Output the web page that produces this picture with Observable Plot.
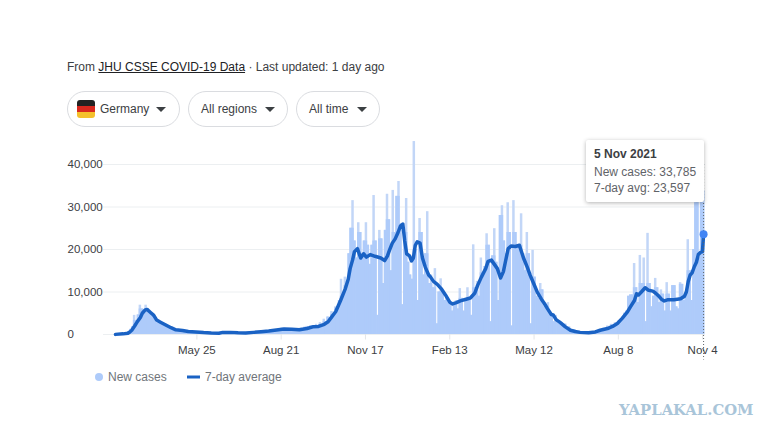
<!DOCTYPE html>
<html>
<head>
<meta charset="utf-8">
<script src="https://cdn.jsdelivr.net/npm/d3@7"></script>
<script src="https://cdn.jsdelivr.net/npm/@observablehq/plot@0.6"></script>
<style>
html,body{margin:0;padding:0;background:#fff;width:782px;height:440px;overflow:hidden;font-family:"Liberation Sans",Arial,sans-serif}
.abs{position:absolute;white-space:nowrap}
#source{left:67px;top:59px;font-size:12px;color:#3c4043;line-height:16px}
#source u{color:#202124}
.chip{position:absolute;top:91px;height:34px;border:1px solid #dadce0;border-radius:18px;box-sizing:content-box;font-size:12px;color:#3c4043;line-height:34px}
.chip span{position:absolute;top:0}
.tri{position:absolute;top:15px;width:0;height:0;border-left:5px solid transparent;border-right:5px solid transparent;border-top:5px solid #3c4043}
#flag{position:absolute;left:9px;top:8px;width:18px;height:18px;border-radius:3px;overflow:hidden}
#flag div{height:6px}
#chart{position:absolute;left:0;top:130px}
#tip{position:absolute;left:586px;top:140px;width:118px;height:62px;background:#fff;box-shadow:0 1px 4px rgba(0,0,0,.3);border-radius:2px;font-size:12px;color:#5f6368;z-index:3}
#tip div{position:absolute;left:8px;white-space:nowrap}
#legend{position:absolute;left:0;top:369px;width:782px;height:16px;font-size:12px;color:#70757a;line-height:16px}
#legend .t{position:absolute;top:0}
#wm{left:619px;top:401px;font-family:"DejaVu Serif",serif;font-weight:bold;font-size:14.8px;color:#a9c5d9}
</style>
</head>
<body>
<div id="source" class="abs">From <u>JHU CSSE COVID-19 Data</u> · Last updated: 1 day ago</div>
<div class="chip" style="left:67px;width:111px"><div id="flag"><div style="background:#222"></div><div style="background:#d8281e"></div><div style="background:#f5c02c"></div></div><span style="left:32px">Germany</span><i class="tri" style="left:88px"></i></div>
<div class="chip" style="left:188px;width:98px"><span style="left:12px">All regions</span><i class="tri" style="left:76px"></i></div>
<div class="chip" style="left:296px;width:82px"><span style="left:12px">All time</span><i class="tri" style="left:60px"></i></div>
<div id="chart"></div>
<div id="tip"><div style="top:7px;font-weight:bold;color:#3c4043">5 Nov 2021</div><div style="top:25px">New cases: 33,785</div><div style="top:41px">7-day avg: 23,597</div></div>
<div id="legend">
<svg width="782" height="16" style="position:absolute;left:0;top:0"><circle cx="99" cy="8" r="4" fill="#aecbfa"/><line x1="187" x2="200" y1="8" y2="8" stroke="#1a62c4" stroke-width="3"/></svg>
<span class="t" style="left:108px">New cases</span><span class="t" style="left:205px">7-day average</span></div>
<div id="wm" class="abs">YAPLAKAL.COM</div>
<script>
// new cases, one bar for every two days from 1 Mar 2020
const newCases = [
0,20,40,80,120,180,400,700,1200,1800,
4500,3300,4600,6900,6000,5300,6900,5900,5500,4300,
4500,3400,3000,2800,2500,2600,2100,1900,1700,1500,
1200,1100,900,1000,800,900,700,800,700,600,
700,500,500,450,500,400,450,350,400,300,
350,300,300,250,350,300,300,500,600,550,
500,450,500,450,400,400,350,400,350,400,
500,450,550,500,600,550,700,650,800,700,
900,850,1000,950,1100,1200,1300,1500,1400,1400,
1200,1300,1100,1200,1000,1100,1300,1500,1400,1700,
1900,1700,2000,2100,1800,2400,2000,2800,2400,3600,
3000,4200,4000,5400,4700,6500,6000,8000,13000,9000,
13500,11500,19000,25000,31500,22000,18000,26300,24000,19000,
22000,26300,21000,16500,21000,32700,22000,4500,24500,22500,
12000,24500,33000,27000,15000,33900,24000,32500,36000,26000,
7000,24000,32000,17000,14000,13000,45400,20000,8000,27300,
24000,14000,19000,28900,12000,14000,11000,15500,2500,10000,
13100,10000,8000,8500,7500,7000,5500,7000,8000,6000,
10800,8500,5500,8000,11000,8000,4500,21100,11000,12500,
9000,18000,14500,16000,23700,21000,3000,18500,24900,17000,
8000,28000,30300,22000,19000,31000,24000,2000,31500,24000,
21000,21000,28400,19000,15000,24000,19000,2500,19800,13500,
9000,8500,12000,10500,6500,6500,7500,5000,4800,3000,
4500,2700,3200,2700,2300,2500,1700,1800,1200,1100,
1000,700,800,500,500,450,500,400,450,500,
600,800,800,1100,1200,1500,1300,2000,1600,2400,
2200,2800,2500,3300,3000,4000,5000,5500,9000,9300,
9300,16700,11000,7500,18600,12000,18000,3000,23800,12000,
6500,9000,13200,11000,7500,10500,9500,5500,12200,9500,
5500,11500,11500,6500,6000,12200,11800,8000,10000,22300,
15000,8000,20000,31000,32500,18000,33000,33785
];
// 7-day average, read at these days after 1 Mar 2020
const avgDays = [0,8,13,15,17,20,23,26,28,31,33,36,40,43,47,52,58,63,70,76,84,92,100,108,112,120,128,136,144,152,160,168,176,184,192,200,206,212,218,222,226,230,235,240,243,245,247.5,249.5,252.6,256,259,262,266,271,277,281,284,286,289,292,295,297.5,300,302,304,307,309,311,313,315,318,320.5,323.5,327,329,332,336,340,344.5,349,352,356,360,366,370.5,375,378,382,386.5,389,392.5,395.6,398.7,402,405,407,410,413,417.5,421.7,426,430,433,436.6,440.5,444.7,447.8,451,455,457,460,464.5,469.7,475,480,485,494,501,506,513.6,519,524,529,534.5,537.6,541.8,544,546,549,553,556.6,561,564,567,570,573,577,583,590,594,596,598,600,602,604.4,606.5,608.5,610.7,612.8,614];
const avgValues = [30,150,300,600,1000,2000,3100,4000,5000,5800,5900,5300,4500,3400,2900,2300,1600,1100,950,700,600,450,350,300,500,500,400,350,500,650,800,1050,1300,1250,1100,1400,1800,1900,2400,3000,4200,5400,8000,10800,13000,15500,17500,19500,20200,18000,19000,18200,18800,18400,18000,17400,18500,19800,21500,22500,24000,25500,26000,22000,19000,18500,17300,18000,21000,21800,21500,18000,15800,14000,13500,12500,11800,10800,9300,7600,7200,7500,7900,8300,8600,9700,11500,13500,15500,17200,17500,16500,15500,13300,14800,17000,20200,20800,20700,21000,18000,15800,13900,12000,9900,8300,7300,6100,4700,4600,3500,2800,1800,1000,700,500,400,600,1000,1400,1900,2600,3800,5300,6500,8000,9600,9300,10000,11000,10400,10200,9700,9100,8300,7900,8200,8200,8400,9000,10000,12500,14000,14500,16000,17000,18800,19300,19500,23597];
const tickDates = ["2020-05-25","2020-08-21","2020-11-17","2021-02-13","2021-05-12","2021-08-08","2021-11-04"].map(d => new Date(d));
const yTicks = [0,10000,20000,30000,40000];

const start = Date.UTC(2020,2,1);
const dayMs = 86400000;
const at = d => new Date(start + d*dayMs);
const bars = newCases.map((v,i) => ({
  x1: at(2*i-1.3), x2: at(2*i+1.3), v,
  // part of each bar that its neighbours also reach: drawn in the stronger tone
  body: Math.min(v, d3.median([newCases[i-1] ?? v, v, newCases[i+1] ?? v]))
}));
const avg = avgDays.map((d,i) => ({x: at(d), v: avgValues[i]}));
const last = avg[avg.length-1];

const plot = Plot.plot({
  width: 782, height: 230,
  marginLeft: 103, marginRight: 77, marginTop: 8.5, marginBottom: 26,
  style: {fontFamily: '"Liberation Sans",Arial,sans-serif', fontSize: "11.5px", background: "transparent", overflow: "visible"},
  x: {type: "utc", domain: [at(-12.5), at(616)], label: null},
  y: {domain: [0, 46000], label: null},
  marks: [
    Plot.gridY(yTicks, {stroke: "#eceff1", strokeOpacity: 1}),
    Plot.ruleX(tickDates, {y1: 0, y2: -1300, stroke: "#e4e6e8"}),
    Plot.rectY(bars, {x1: "x1", x2: "x2", y: "v", fill: "#c2d6f7"}),
    Plot.rectY(bars, {x1: "x1", x2: "x2", y: "body", fill: "#aecbfa"}),
    Plot.line(avg, {x: "x", y: "v", stroke: "#1a62c4", strokeWidth: 3.5, strokeLinejoin: "round", curve: "linear"}),
    Plot.ruleX([last], {x: "x", y1: 40000, y2: -6000, stroke: "#5f6368", strokeWidth: 1, strokeDasharray: "1,2"}),
    Plot.dot([last], {x: "x", y: "v", r: 4, fill: "#4285f4"}),
    Plot.axisY({ticks: yTicks, tickSize: 0, tickPadding: 36, textAnchor: "start", tickFormat: d3.format(","), color: "#3c4043", label: null}),
    Plot.axisX({ticks: tickDates, tickSize: 0, tickPadding: 11, tickFormat: d3.utcFormat("%b %-d"), color: "#3c4043", label: null})
  ]
});
document.getElementById("chart").appendChild(plot);
</script>
</body>
</html>
